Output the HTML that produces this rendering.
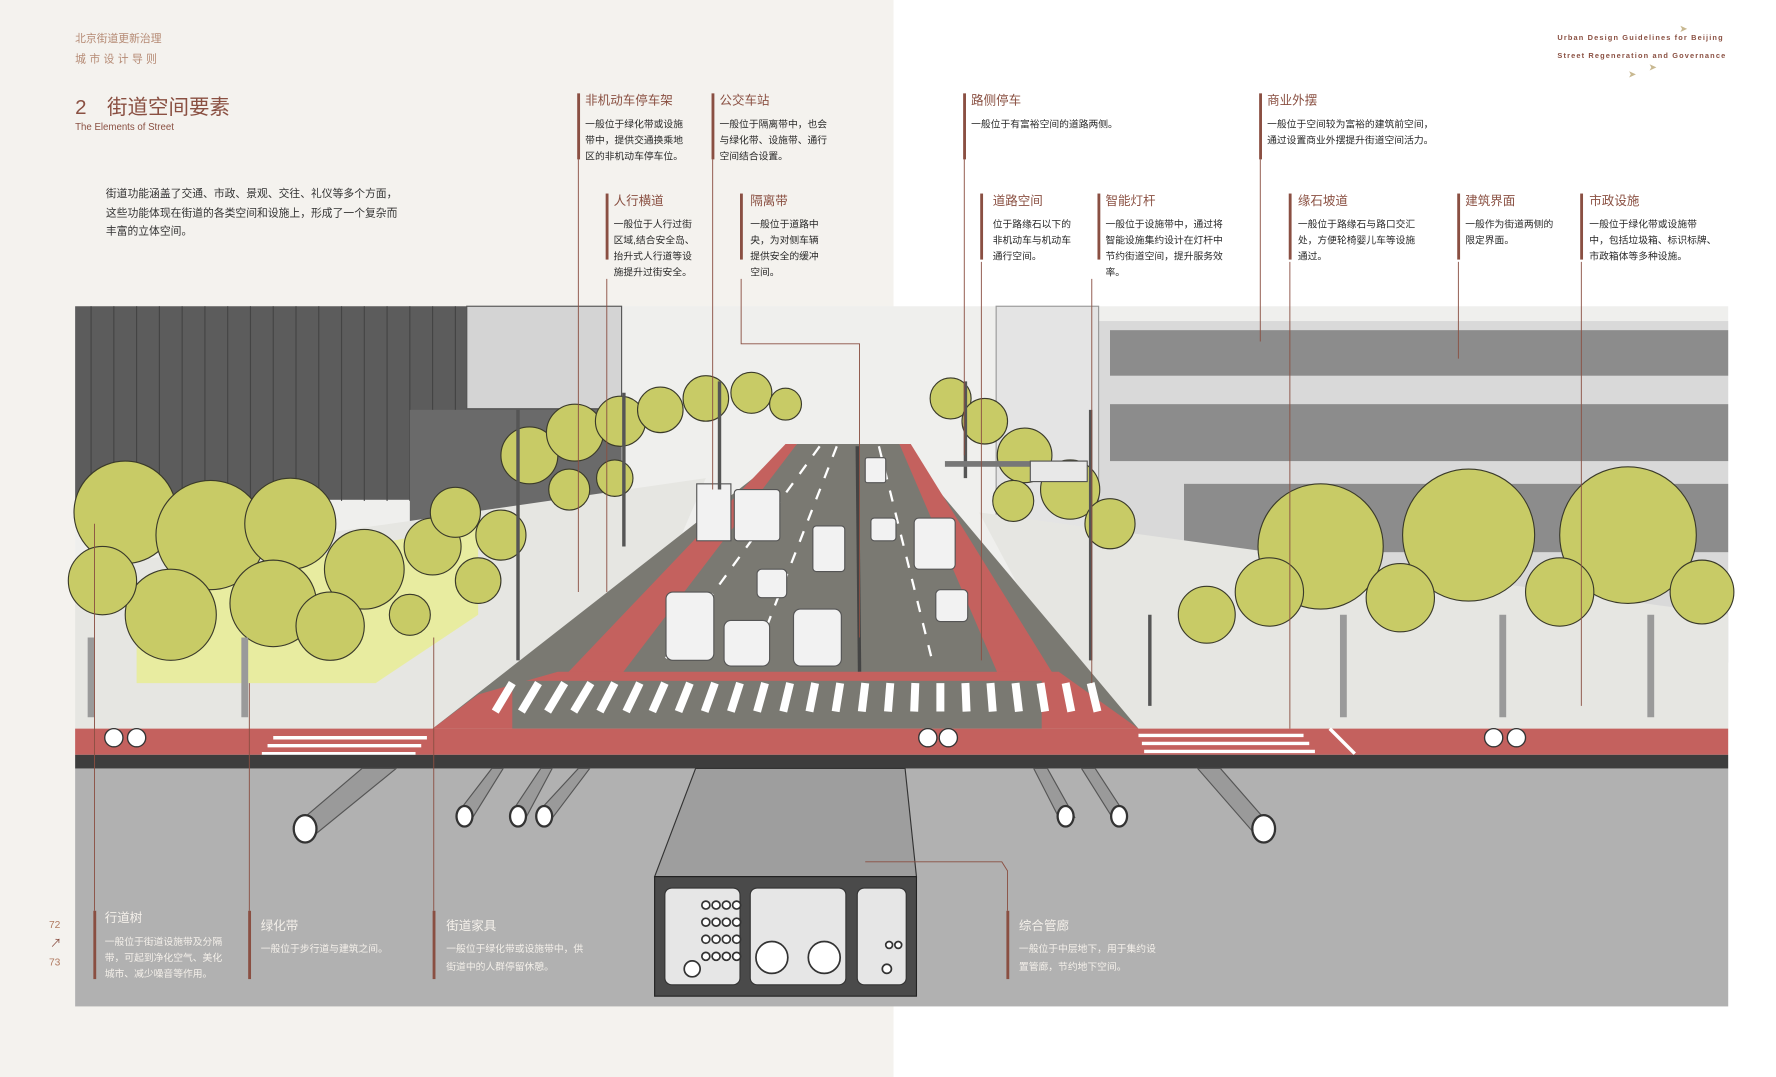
<!DOCTYPE html>
<html><head><meta charset="utf-8"><style>
html,body{margin:0;padding:0;background:#fff}
svg{display:block}
text{font-family:"Liberation Sans","Noto Sans CJK SC",sans-serif}
.t{fill:#8a5042;font-size:11px}
.b{fill:#2a2a2a;font-size:8.6px}
.w{fill:#f4f0ea;font-size:11px}
.wb{fill:#f4f0ea;font-size:8.6px}
.bar{fill:#8a4f42}
.ln{stroke:#8a4f42;stroke-width:0.8;fill:none}
.tr{fill:#c8cb66;stroke:#3a3a2a;stroke-width:1}
</style></head><body>
<svg width="1776" height="1077" viewBox="0 0 1560 946" preserveAspectRatio="none" xmlns="http://www.w3.org/2000/svg">
<rect x="0" y="0" width="785" height="946" fill="#f4f2ee"/>
<rect x="785" y="0" width="775" height="946" fill="#ffffff"/>

<text x="66" y="37" fill="#b58a74" style="font-size:9.5px">北京街道更新治理</text>
<text x="66" y="55" fill="#b58a74" style="font-size:9.5px;letter-spacing:3px">城市设计导则</text>
<text x="66" y="100" fill="#8a5042" style="font-size:18px">2　街道空间要素</text>
<text x="66" y="114" fill="#8a5042" style="font-size:8.5px">The Elements of Street</text>
<text x="93" y="173" fill="#333" style="font-size:9.5px">街道功能涵盖了交通、市政、景观、交往、礼仪等多个方面，</text>
<text x="93" y="190" fill="#333" style="font-size:9.5px">这些功能体现在街道的各类空间和设施上，形成了一个复杂而</text>
<text x="93" y="206" fill="#333" style="font-size:9.5px">丰富的立体空间。</text>
<text x="1368" y="35" fill="#8a5042" style="font-size:6.5px;letter-spacing:1px;font-weight:bold">Urban Design Guidelines for  Beijing</text>
<text x="1368" y="51" fill="#8a5042" style="font-size:6.5px;letter-spacing:1px;font-weight:bold">Street Regeneration and Governance</text>
<text x="1475" y="28" fill="#c8b890" style="font-size:9px">➤</text>
<text x="1430" y="68" fill="#c8b890" style="font-size:9px">➤</text>
<text x="1448" y="62" fill="#c8b890" style="font-size:9px">➤</text>

<rect x="66" y="269" width="1452" height="615" fill="#efefed"/>
<rect x="66" y="269" width="480" height="170" fill="#5c5c5c"/>
<g stroke="#444" stroke-width="1">
<line x1="80" y1="269" x2="80" y2="440"/><line x1="100" y1="269" x2="100" y2="440"/><line x1="120" y1="269" x2="120" y2="440"/><line x1="140" y1="269" x2="140" y2="440"/><line x1="160" y1="269" x2="160" y2="440"/><line x1="180" y1="269" x2="180" y2="440"/><line x1="200" y1="269" x2="200" y2="440"/><line x1="220" y1="269" x2="220" y2="440"/><line x1="240" y1="269" x2="240" y2="440"/><line x1="260" y1="269" x2="260" y2="440"/><line x1="280" y1="269" x2="280" y2="440"/><line x1="300" y1="269" x2="300" y2="440"/><line x1="320" y1="269" x2="320" y2="440"/><line x1="340" y1="269" x2="340" y2="440"/><line x1="360" y1="269" x2="360" y2="440"/><line x1="380" y1="269" x2="380" y2="440"/><line x1="400" y1="269" x2="400" y2="440"/>
</g>
<rect x="360" y="360" width="186" height="110" fill="#6a6a6a"/>
<rect x="410" y="269" width="136" height="90" fill="#d4d4d4" stroke="#555"/>
<rect x="965" y="282" width="553" height="300" fill="#d9d9d9"/>
<rect x="975" y="290" width="543" height="40" fill="#8c8c8c"/>
<rect x="975" y="355" width="543" height="50" fill="#8c8c8c"/>
<rect x="1040" y="425" width="478" height="60" fill="#8c8c8c"/>
<rect x="875" y="269" width="90" height="200" fill="#e4e4e4" stroke="#999"/>
<polygon points="66,500 620,420 560,560 430,600 395,640 66,640" fill="#e6e6e2"/>
<polygon points="120,520 420,460 420,540 330,600 120,600" fill="#e8eca0"/>
<polygon points="860,450 1518,540 1518,640 995,640 940,600" fill="#e6e6e2"/>
<polygon points="700,390 790,390 1000,640 380,640" fill="#7a7972"/>
<polygon points="690,390 700,390 540,600 490,600" fill="#c4615e"/>
<polygon points="790,390 800,390 930,600 880,600" fill="#c4615e"/>
<polygon points="490,590 930,590 1000,640 380,640 420,610" fill="#c4615e"/>
<rect x="450" y="598" width="465" height="42" fill="#7a7972"/>
<g stroke="#fff" stroke-width="7">
<line x1="435" y1="625" x2="450" y2="600"/><line x1="458" y1="625" x2="473" y2="600"/><line x1="481" y1="625" x2="496" y2="600"/><line x1="504" y1="625" x2="519" y2="600"/><line x1="527" y1="625" x2="540" y2="600"/><line x1="550" y1="625" x2="562" y2="600"/><line x1="573" y1="625" x2="584" y2="600"/><line x1="596" y1="625" x2="606" y2="600"/><line x1="619" y1="625" x2="628" y2="600"/><line x1="642" y1="625" x2="650" y2="600"/><line x1="665" y1="625" x2="672" y2="600"/><line x1="688" y1="625" x2="694" y2="600"/><line x1="711" y1="625" x2="716" y2="600"/><line x1="734" y1="625" x2="738" y2="600"/><line x1="757" y1="625" x2="760" y2="600"/><line x1="780" y1="625" x2="782" y2="600"/><line x1="803" y1="625" x2="804" y2="600"/><line x1="826" y1="625" x2="826" y2="600"/><line x1="849" y1="625" x2="848" y2="600"/><line x1="872" y1="625" x2="870" y2="600"/><line x1="895" y1="625" x2="892" y2="600"/><line x1="918" y1="625" x2="914" y2="600"/><line x1="941" y1="625" x2="936" y2="600"/><line x1="964" y1="625" x2="958" y2="600"/>
</g>
<g stroke="#fff" stroke-width="2" stroke-dasharray="10 10">
<line x1="720" y1="392" x2="580" y2="585"/><line x1="735" y1="392" x2="660" y2="585"/><line x1="772" y1="392" x2="820" y2="585"/>
</g>
<line x1="753" y1="392" x2="755" y2="590" stroke="#444" stroke-width="3"/>
<g fill="#f2f2f2" stroke="#555" stroke-width="1">
<rect x="645" y="430" width="40" height="45" rx="3"/><rect x="585" y="520" width="42" height="60" rx="6"/><rect x="636" y="545" width="40" height="40" rx="6"/><rect x="697" y="535" width="42" height="50" rx="6"/>
<rect x="714" y="462" width="28" height="40" rx="3"/><rect x="665" y="500" width="26" height="25" rx="4"/><rect x="803" y="455" width="36" height="45" rx="4"/><rect x="822" y="518" width="28" height="28" rx="4"/>
<rect x="765" y="455" width="22" height="20" rx="3"/><rect x="760" y="402" width="18" height="22" rx="2"/><rect x="612" y="425" width="30" height="50"/>
</g>
<g class="tr">
<circle cx="110" cy="450" r="45"/><circle cx="185" cy="470" r="48"/><circle cx="255" cy="460" r="40"/><circle cx="150" cy="540" r="40"/><circle cx="240" cy="530" r="38"/><circle cx="320" cy="500" r="35"/><circle cx="90" cy="510" r="30"/>
<circle cx="290" cy="550" r="30"/><circle cx="380" cy="480" r="25"/><circle cx="440" cy="470" r="22"/><circle cx="465" cy="400" r="25"/><circle cx="505" cy="380" r="25"/><circle cx="545" cy="370" r="22"/><circle cx="580" cy="360" r="20"/><circle cx="620" cy="350" r="20"/><circle cx="660" cy="345" r="18"/><circle cx="690" cy="355" r="14"/>
<circle cx="420" cy="510" r="20"/><circle cx="360" cy="540" r="18"/><circle cx="400" cy="450" r="22"/><circle cx="500" cy="430" r="18"/><circle cx="540" cy="420" r="16"/>
</g>
<g class="tr">
<circle cx="835" cy="350" r="18"/><circle cx="865" cy="370" r="20"/><circle cx="900" cy="400" r="24"/><circle cx="940" cy="430" r="26"/><circle cx="975" cy="460" r="22"/><circle cx="890" cy="440" r="18"/>
<circle cx="1160" cy="480" r="55"/><circle cx="1290" cy="470" r="58"/><circle cx="1430" cy="470" r="60"/><circle cx="1115" cy="520" r="30"/><circle cx="1230" cy="525" r="30"/><circle cx="1370" cy="520" r="30"/><circle cx="1495" cy="520" r="28"/><circle cx="1060" cy="540" r="25"/>
</g>
<g stroke="#9a9a9a" stroke-width="6" fill="none">
<line x1="80" y1="560" x2="80" y2="630"/><line x1="215" y1="560" x2="215" y2="630"/><line x1="1180" y1="540" x2="1180" y2="630"/><line x1="1320" y1="540" x2="1320" y2="630"/><line x1="1450" y1="540" x2="1450" y2="630"/>
</g>
<g stroke="#555" stroke-width="3">
<line x1="455" y1="360" x2="455" y2="580"/><line x1="548" y1="345" x2="548" y2="480"/><line x1="632" y1="335" x2="632" y2="430"/><line x1="958" y1="360" x2="958" y2="580"/><line x1="848" y1="335" x2="848" y2="420"/><line x1="1010" y1="540" x2="1010" y2="620"/>
</g>
<rect x="830" y="405" width="125" height="5" fill="#777"/>
<rect x="905" y="405" width="50" height="18" fill="#e8e8e8" stroke="#555"/>
<rect x="66" y="640" width="1452" height="23" fill="#c4615e"/>
<g stroke="#fff" stroke-width="3">
<line x1="240" y1="648" x2="375" y2="648"/><line x1="235" y1="655" x2="370" y2="655"/><line x1="230" y1="662" x2="365" y2="662"/>
<line x1="1000" y1="646" x2="1145" y2="646"/><line x1="1003" y1="653" x2="1150" y2="653"/><line x1="1005" y1="660" x2="1155" y2="660"/>
<line x1="1168" y1="640" x2="1190" y2="662"/>
</g>
<g fill="#fff" stroke="#333" stroke-width="1.2">
<circle cx="100" cy="648" r="8"/><circle cx="120" cy="648" r="8"/><circle cx="815" cy="648" r="8"/><circle cx="833" cy="648" r="8"/><circle cx="1312" cy="648" r="8"/><circle cx="1332" cy="648" r="8"/>
</g>
<rect x="66" y="663" width="1452" height="12" fill="#3d3d3d"/>
<rect x="66" y="675" width="1452" height="209" fill="#b1b1b1"/>
<g stroke="#555" stroke-width="1" fill="#9a9a9a">
<polygon points="318,675 348,675 278,732 258,726"/>
<polygon points="432,675 442,675 414,720 402,714"/>
<polygon points="475,675 485,675 461,720 449,714"/>
<polygon points="508,675 518,675 484,720 472,714"/>
<polygon points="908,675 920,675 944,718 930,718"/>
<polygon points="950,675 962,675 990,718 977,718"/>
<polygon points="1052,675 1072,675 1120,730 1100,730"/>
</g>
<g fill="#fff" stroke="#333" stroke-width="2">
<ellipse cx="268" cy="728" rx="10" ry="12"/><ellipse cx="408" cy="717" rx="7" ry="9"/><ellipse cx="455" cy="717" rx="7" ry="9"/><ellipse cx="478" cy="717" rx="7" ry="9"/><ellipse cx="936" cy="717" rx="7" ry="9"/><ellipse cx="983" cy="717" rx="7" ry="9"/><ellipse cx="1110" cy="728" rx="10" ry="12"/>
</g>
<polygon points="611,675 795,675 805,770 575,770" fill="#9e9e9e" stroke="#333"/>
<rect x="575" y="770" width="230" height="105" fill="#4a4a4a" stroke="#222"/>
<g fill="#e6e6e6" stroke="#333">
<rect x="584" y="780" width="66" height="85" rx="6"/><rect x="659" y="780" width="84" height="85" rx="6"/><rect x="753" y="780" width="43" height="85" rx="6"/>
</g>
<g fill="#fff" stroke="#333" stroke-width="1.5">
<circle cx="608" cy="851" r="7"/><circle cx="678" cy="841" r="14"/><circle cx="724" cy="841" r="14"/><circle cx="779" cy="851" r="4"/>
<circle cx="620" cy="795" r="3.5"/><circle cx="629" cy="795" r="3.5"/><circle cx="638" cy="795" r="3.5"/><circle cx="647" cy="795" r="3.5"/>
<circle cx="620" cy="810" r="3.5"/><circle cx="629" cy="810" r="3.5"/><circle cx="638" cy="810" r="3.5"/><circle cx="647" cy="810" r="3.5"/>
<circle cx="620" cy="825" r="3.5"/><circle cx="629" cy="825" r="3.5"/><circle cx="638" cy="825" r="3.5"/><circle cx="647" cy="825" r="3.5"/>
<circle cx="620" cy="840" r="3.5"/><circle cx="629" cy="840" r="3.5"/><circle cx="638" cy="840" r="3.5"/><circle cx="647" cy="840" r="3.5"/>
<circle cx="781" cy="830" r="3"/><circle cx="789" cy="830" r="3"/>
</g>

<g class="ln">
<line x1="508" y1="140" x2="508" y2="520"/>
<line x1="626" y1="140" x2="626" y2="430"/>
<line x1="533" y1="245" x2="533" y2="520"/>
<polyline points="651,245 651,302 755,302 755,560"/>
<line x1="847" y1="140" x2="847" y2="400"/>
<line x1="1107" y1="140" x2="1107" y2="300"/>
<line x1="862" y1="230" x2="862" y2="580"/>
<line x1="959" y1="245" x2="959" y2="600"/>
<line x1="1133" y1="230" x2="1133" y2="640"/>
<line x1="1281" y1="230" x2="1281" y2="315"/>
<line x1="1389" y1="230" x2="1389" y2="620"/>
<line x1="83" y1="800" x2="83" y2="460"/>
<line x1="219" y1="800" x2="219" y2="600"/>
<line x1="381" y1="800" x2="381" y2="560"/>
<polyline points="760,757 880,757 885,765 885,800"/>
</g>

<rect class="bar" x="507" y="82" width="2.5" height="58"/>
<text class="t" x="514" y="92">非机动车停车架</text>
<text class="b" x="514" y="112">一般位于绿化带或设施</text><text class="b" x="514" y="126">带中，提供交通换乘地</text><text class="b" x="514" y="140">区的非机动车停车位。</text>
<rect class="bar" x="625" y="82" width="2.5" height="58"/>
<text class="t" x="632" y="92">公交车站</text>
<text class="b" x="632" y="112">一般位于隔离带中，也会</text><text class="b" x="632" y="126">与绿化带、设施带、通行</text><text class="b" x="632" y="140">空间结合设置。</text>
<rect class="bar" x="532" y="170" width="2.5" height="58"/>
<text class="t" x="539" y="180">人行横道</text>
<text class="b" x="539" y="200">一般位于人行过街</text><text class="b" x="539" y="214">区域,结合安全岛、</text><text class="b" x="539" y="228">抬升式人行道等设</text><text class="b" x="539" y="242">施提升过街安全。</text>
<rect class="bar" x="650" y="170" width="2.5" height="58"/>
<text class="t" x="659" y="180">隔离带</text>
<text class="b" x="659" y="200">一般位于道路中</text><text class="b" x="659" y="214">央，为对侧车辆</text><text class="b" x="659" y="228">提供安全的缓冲</text><text class="b" x="659" y="242">空间。</text>
<rect class="bar" x="846" y="82" width="2.5" height="58"/>
<text class="t" x="853" y="92">路侧停车</text>
<text class="b" x="853" y="112">一般位于有富裕空间的道路两侧。</text>
<rect class="bar" x="1106" y="82" width="2.5" height="58"/>
<text class="t" x="1113" y="92">商业外摆</text>
<text class="b" x="1113" y="112">一般位于空间较为富裕的建筑前空间，</text><text class="b" x="1113" y="126">通过设置商业外摆提升街道空间活力。</text>
<rect class="bar" x="861" y="170" width="2.5" height="58"/>
<text class="t" x="872" y="180">道路空间</text>
<text class="b" x="872" y="200">位于路缘石以下的</text><text class="b" x="872" y="214">非机动车与机动车</text><text class="b" x="872" y="228">通行空间。</text>
<rect class="bar" x="964" y="170" width="2.5" height="58"/>
<text class="t" x="971" y="180">智能灯杆</text>
<text class="b" x="971" y="200">一般位于设施带中，通过将</text><text class="b" x="971" y="214">智能设施集约设计在灯杆中</text><text class="b" x="971" y="228">节约街道空间，提升服务效</text><text class="b" x="971" y="242">率。</text>
<rect class="bar" x="1132" y="170" width="2.5" height="58"/>
<text class="t" x="1140" y="180">缘石坡道</text>
<text class="b" x="1140" y="200">一般位于路缘石与路口交汇</text><text class="b" x="1140" y="214">处，方便轮椅婴儿车等设施</text><text class="b" x="1140" y="228">通过。</text>
<rect class="bar" x="1280" y="170" width="2.5" height="58"/>
<text class="t" x="1287" y="180">建筑界面</text>
<text class="b" x="1287" y="200">一般作为街道两侧的</text><text class="b" x="1287" y="214">限定界面。</text>
<rect class="bar" x="1388" y="170" width="2.5" height="58"/>
<text class="t" x="1396" y="180">市政设施</text>
<text class="b" x="1396" y="200">一般位于绿化带或设施带</text><text class="b" x="1396" y="214">中，包括垃圾箱、标识标牌、</text><text class="b" x="1396" y="228">市政箱体等多种设施。</text>

<rect class="bar" x="82" y="800" width="2.5" height="60"/>
<text class="w" x="92" y="810">行道树</text>
<text class="wb" x="92" y="830">一般位于街道设施带及分隔</text><text class="wb" x="92" y="844">带，可起到净化空气、美化</text><text class="wb" x="92" y="858">城市、减少噪音等作用。</text>
<rect class="bar" x="218" y="800" width="2.5" height="60"/>
<text class="w" x="229" y="817">绿化带</text>
<text class="wb" x="229" y="836">一般位于步行道与建筑之间。</text>
<rect class="bar" x="380" y="800" width="2.5" height="60"/>
<text class="w" x="392" y="817">街道家具</text>
<text class="wb" x="392" y="836">一般位于绿化带或设施带中，供</text><text class="wb" x="392" y="852">街道中的人群停留休憩。</text>
<rect class="bar" x="884" y="800" width="2.5" height="60"/>
<text class="w" x="895" y="817">综合管廊</text>
<text class="wb" x="895" y="836">一般位于中层地下，用于集约设</text><text class="wb" x="895" y="852">置管廊，节约地下空间。</text>

<text x="43" y="815" fill="#b07a60" style="font-size:9px">72</text>
<text x="44" y="832" fill="#8a4f42" style="font-size:10px">↗</text>
<text x="43" y="848" fill="#b07a60" style="font-size:9px">73</text>
</svg>
</body></html>
